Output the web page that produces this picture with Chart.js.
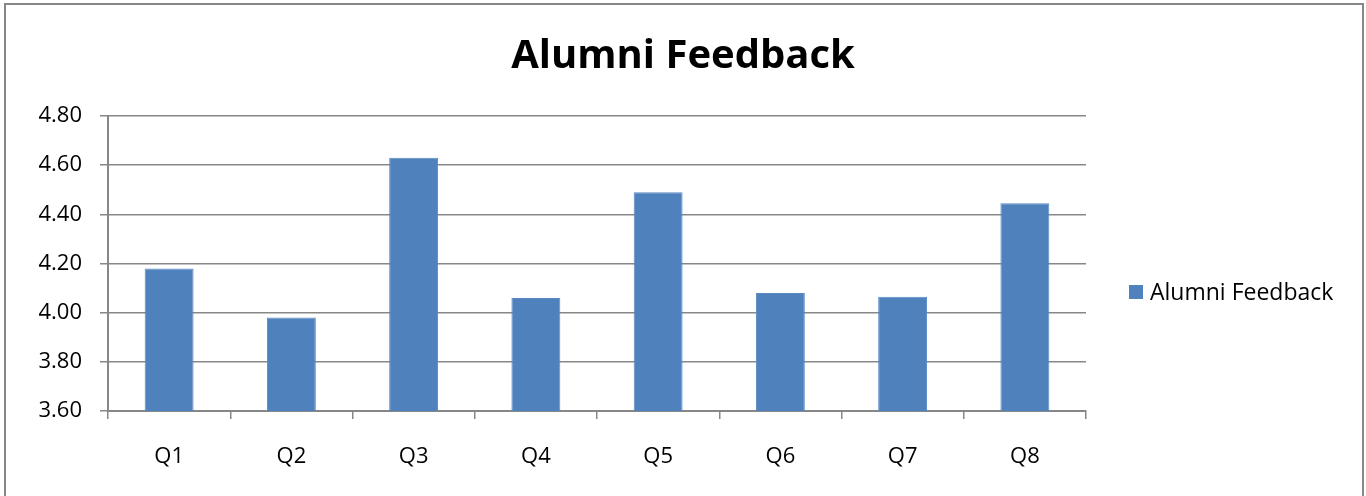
<!DOCTYPE html>
<html>
<head>
<meta charset="utf-8">
<script src="https://cdn.jsdelivr.net/npm/chart.js@4/dist/chart.umd.min.js"></script>
<style>
  html, body { margin: 0; padding: 0; background: #fff; }
  #frame { position: absolute; left: 4px; top: 3px; width: 1356px; height: 600px; border: 2px solid #878787; }
  #c { position: absolute; left: 0; top: 0; }
</style>
</head>
<body>
<div id="frame"></div>
<canvas id="c" width="1366" height="496"></canvas>
<script>
var categories = ['Q1', 'Q2', 'Q3', 'Q4', 'Q5', 'Q6', 'Q7', 'Q8'];
var feedback = [4.18, 3.98, 4.63, 4.06, 4.49, 4.08, 4.065, 4.445];
var yTicks = [3.6, 3.8, 4.0, 4.2, 4.4, 4.6, 4.8];

var fontFamily = "'Open Sans', 'Noto Sans', sans-serif";
var gridColor = '#878787';

// legend on the right, drawn next to the plot like the spreadsheet does it
var sideLegend = {
  id: 'sideLegend',
  afterDraw: function (chart) {
    var ctx = chart.ctx;
    var area = chart.chartArea;
    var ds = chart.data.datasets[0];
    var y = area.bottom - 119;
    var x = area.right + 43;
    ctx.save();
    ctx.fillStyle = ds.backgroundColor;
    ctx.fillRect(x, y - 7, 14, 14);
    ctx.fillStyle = '#000';
    ctx.font = '23px ' + fontFamily;
    ctx.textBaseline = 'middle';
    ctx.fillText(ds.label, x + 21, y + 1);
    ctx.restore();
  }
};

var chart = new Chart(document.getElementById('c').getContext('2d'), {
  type: 'bar',
  data: {
    labels: categories,
    datasets: [{
      label: 'Alumni Feedback',
      data: feedback,
      backgroundColor: '#4F81BD',
      borderColor: '#5a8ac4',
      borderWidth: 1,
      categoryPercentage: 1,
      barPercentage: 0.4
    }]
  },
  options: {
    responsive: false,
    devicePixelRatio: 1,
    animation: false,
    layout: {padding: 0},
    plugins: {
      legend: {display: false},
      tooltip: {enabled: false},
      title: {
        display: true,
        text: 'Alumni Feedback',
        color: '#000',
        font: {family: fontFamily, size: 40, weight: 'bold'},
        padding: {top: 33, bottom: 35}
      }
    },
    scales: {
      x: {
        grid: {display: true, drawOnChartArea: false, color: gridColor, lineWidth: 1.5, tickLength: 8},
        border: {display: true, color: gridColor, width: 2},
        ticks: {color: '#000', font: {family: fontFamily, size: 22}, padding: 25},
        afterFit: function (s) { s.height = 85; }
      },
      y: {
        min: 3.6,
        max: 4.8,
        afterBuildTicks: function (s) { s.ticks = yTicks.map(function (v) { return {value: v}; }); },
        grid: {color: gridColor, lineWidth: 1.5, tickLength: 8},
        border: {display: true, color: gridColor, width: 2},
        ticks: {
          color: '#000',
          font: {family: fontFamily, size: 22},
          padding: 18,
          callback: function (v) { return Number(v).toFixed(2); }
        },
        afterFit: function (s) { s.width = 108; }
      },
      // empty strip on the right that holds the legend, keeps the title centred on the whole frame
      legendSpace: {
        type: 'linear',
        position: 'right',
        grid: {display: false},
        border: {display: false},
        ticks: {display: false},
        afterFit: function (s) { s.width = 280; }
      }
    }
  },
  plugins: [sideLegend]
});
</script>
</body>
</html>
